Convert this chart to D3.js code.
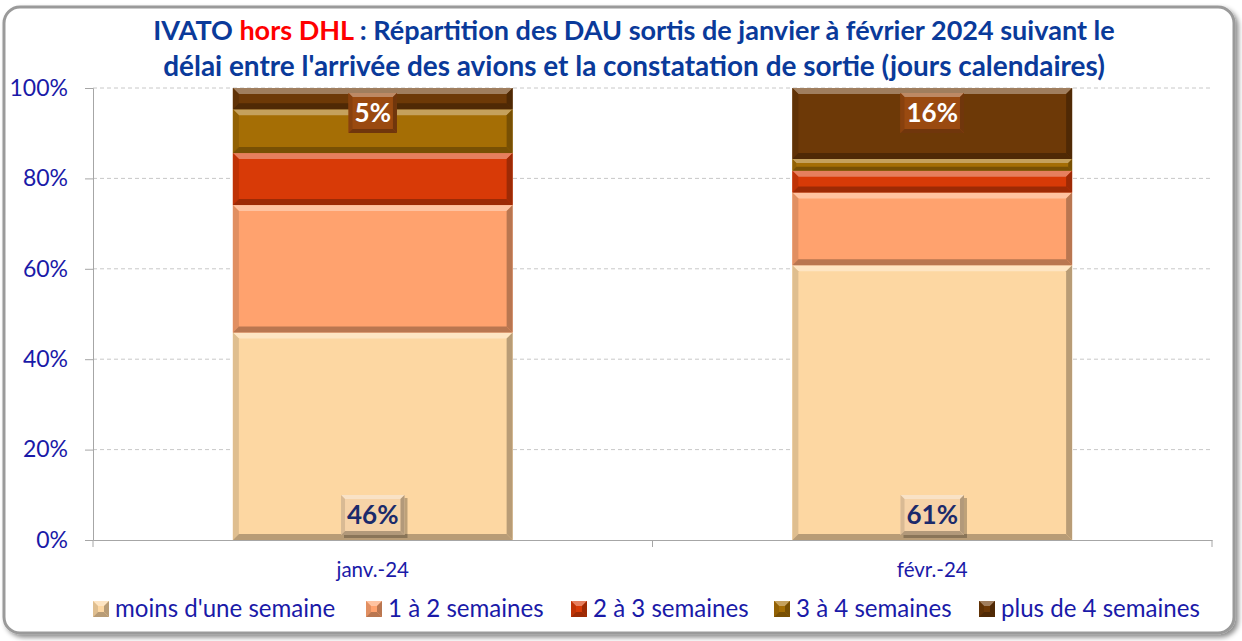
<!DOCTYPE html>
<html><head><meta charset="utf-8">
<script src="https://cdn.jsdelivr.net/npm/d3@7"></script>
<style>body{margin:0;background:#fff}svg{display:block}</style>
</head><body>
<svg id="c" width="1242" height="641"></svg>
<script>
const categories = ["janv.-24", "févr.-24"];
const seriesNames = ["moins d'une semaine", "1 à 2 semaines", "2 à 3 semaines", "3 à 4 semaines", "plus de 4 semaines"];
const moinsSemaine = [45.9, 60.8];
const unADeux = [28.2, 16.1];
const deuxATrois = [11.5, 4.8];
const troisAQuatre = [9.7, 2.6];
const plusDeQuatre = [4.7, 15.7];
const yTicks = [0, 20, 40, 60, 80, 100];
const colors = ["#FDD7A2", "#FFA26E", "#D83A07", "#A56E05", "#6D3907"];
const labelledSeries = {0: "base", 4: "top"};

const FONT = "Lato, 'Open Sans', sans-serif";
const svg = d3.select("#c");
const m = {l: 93, r: 1212, t: 88, b: 540};

function fit(sel, target) {
  const fs = +sel.attr("font-size");
  const w = sel.node().getComputedTextLength();
  sel.attr("font-size", fs * target / w);
}

// frame with shadow
const defs = svg.append("defs");
const f = defs.append("filter").attr("id","sh").attr("x","-5%").attr("y","-5%").attr("width","110%").attr("height","110%");
f.append("feDropShadow").attr("dx",3).attr("dy",3).attr("stdDeviation",2.5).attr("flood-color","#000").attr("flood-opacity",0.45);
svg.append("rect").attr("x",4).attr("y",7).attr("width",1230).attr("height",626).attr("rx",16)
  .attr("fill","#fff").attr("stroke","#9a9a9a").attr("stroke-width",3).attr("filter","url(#sh)");

const x = d3.scaleBand().domain(categories).range([m.l, m.r]).paddingInner(0.5).paddingOuter(0.25);
const y = d3.scaleLinear().domain([0, 100]).range([m.b, m.t]);

// gridlines
svg.append("g").selectAll("line").data(yTicks.filter(d => d > 0)).join("line")
  .attr("x1", m.l).attr("x2", m.r).attr("y1", d => y(d)).attr("y2", d => y(d))
  .attr("stroke", "#c8c8c8").attr("stroke-dasharray", "4,3").attr("stroke-width", 1);

// y axis
const ya = svg.append("g").attr("transform", `translate(${m.l},0)`)
  .call(d3.axisLeft(y).tickValues(yTicks).tickFormat(d => d + "%").tickSize(8).tickPadding(17));
ya.select(".domain").attr("stroke", "#a6a6a6");
ya.selectAll(".tick line").attr("stroke", "#a6a6a6");
ya.selectAll("text").attr("font-family", FONT).attr("font-size", 23).attr("fill", "#1a1aa8");

// x axis
const xa = svg.append("g").attr("transform", `translate(0,${m.b})`)
  .call(d3.axisBottom(x).tickSize(0).tickPadding(22));
xa.select(".domain").attr("stroke", "#a6a6a6");
xa.selectAll("text").attr("font-family", FONT).attr("font-size", 20.5).attr("fill", "#1a1aa8");
const bounds = [m.l, (x(categories[0]) + x.bandwidth() + x(categories[1])) / 2, m.r];
svg.append("g").selectAll("line").data(bounds).join("line")
  .attr("x1", d => d).attr("x2", d => d).attr("y1", m.b).attr("y2", m.b + 7).attr("stroke", "#a6a6a6");

// stacked data
const allSeries = [moinsSemaine, unADeux, deuxATrois, troisAQuatre, plusDeQuatre];
const rows = categories.map((c, i) => { const o = {cat: c}; seriesNames.forEach((s, k) => o[s] = allSeries[k][i]); return o; });
const stacked = d3.stack().keys(seriesNames)(rows);

function bevel(g, x0, y0, w, h, col, b) {
  const c = d3.color(col);
  const light = d3.interpolateRgb(col, "#fff")(0.35);
  const dark = c.darker(0.9).formatHex();
  const mid = c.darker(0.35).formatHex();
  b = Math.min(b, h / 3);
  g.append("rect").attr("x", x0).attr("y", y0).attr("width", w).attr("height", h).attr("fill", col);
  const P = (pts, fill) => g.append("polygon").attr("points", pts.map(p => p.join(",")).join(" ")).attr("fill", fill);
  const x1 = x0 + w, y1 = y0 + h;
  P([[x0, y0], [x1, y0], [x1 - b, y0 + b], [x0 + b, y0 + b]], light);
  P([[x0, y0], [x0 + b, y0 + b], [x0 + b, y1 - b], [x0, y1]], mid);
  P([[x1, y0], [x1, y1], [x1 - b, y1 - b], [x1 - b, y0 + b]], dark);
  P([[x0, y1], [x0 + b, y1 - b], [x1 - b, y1 - b], [x1, y1]], dark);
}

const bars = svg.append("g");
stacked.forEach((s, k) => {
  s.forEach((d, i) => {
    const g = bars.append("g");
    const x0 = x(categories[i]), w = x.bandwidth();
    const yt = y(d[1]), yb = y(d[0]);
    bevel(g, x0, yt, w, yb - yt, colors[k], 6);
  });
});

// labels
const lab = svg.append("g");
stacked.forEach((s, k) => {
  if (!(k in labelledSeries)) return;
  s.forEach((d, i) => {
    const cx = x(categories[i]) + x.bandwidth() / 2;
    const val = Math.round(d[1] - d[0]) + "%";
    const bh = 40;
    const txtCol = k === 0 ? "#1b2a6b" : "#ffffff";
    const boxCol = k === 0 ? "#F6D3A8" : "#9A4A10";
    const t = lab.append("text").attr("font-family", FONT).attr("font-weight", "bold")
      .attr("font-size", 26).attr("fill", txtCol).attr("text-anchor", "middle").text(val);
    const tw = t.node().getComputedTextLength();
    const bw = tw + 12;
    const by = labelledSeries[k] === "base" ? y(d[0]) - 5 - bh : y(d[1]) + 5;
    const g = lab.insert("g", "text");
    if (k === 0) g.append("rect").attr("x", cx - bw / 2 + 3).attr("y", by + 3).attr("width", bw).attr("height", bh).attr("fill", "#000").attr("opacity", 0.25);
    bevel(g, cx - bw / 2, by, bw, bh, boxCol, 4);
    t.attr("x", cx).attr("y", by + bh / 2 + 9);
  });
});

// title
const t1 = svg.append("text").attr("text-anchor", "middle").attr("font-family", FONT)
  .attr("font-weight", "bold").attr("font-size", 23).attr("fill", "#0a3a9a").attr("x", 634).attr("y", 40);
t1.append("tspan").text("IVATO ");
t1.append("tspan").attr("fill", "#ff0000").text("hors DHL");
t1.append("tspan").text(" : Répartition des DAU sortis de janvier à février 2024 suivant le");
fit(t1, 962);
const t2 = svg.append("text").attr("text-anchor", "middle").attr("font-family", FONT)
  .attr("font-weight", "bold").attr("font-size", 23).attr("fill", "#0a3a9a").attr("x", 634).attr("y", 76)
  .text("délai entre l'arrivée des avions et la constatation de sortie (jours calendaires)");
fit(t2, 942);

// legend
const legX = [93, 366, 571, 774, 979];
const leg = svg.append("g");
let legFs = null;
[4, 0, 1, 2, 3].forEach(k => {
  const s = seriesNames[k];
  const g = leg.append("g").attr("transform", `translate(${legX[k]},601)`);
  bevel(g, 0, 0, 16, 16, colors[k], 5);
  const t = g.append("text").attr("x", 22).attr("y", 16).attr("font-family", FONT)
    .attr("font-size", 20).attr("fill", "#1a1aa8").text(s);
  if (k === 4) { fit(t, 199); legFs = +t.attr("font-size"); } else t.attr("font-size", legFs);
});
</script>
</body></html>
